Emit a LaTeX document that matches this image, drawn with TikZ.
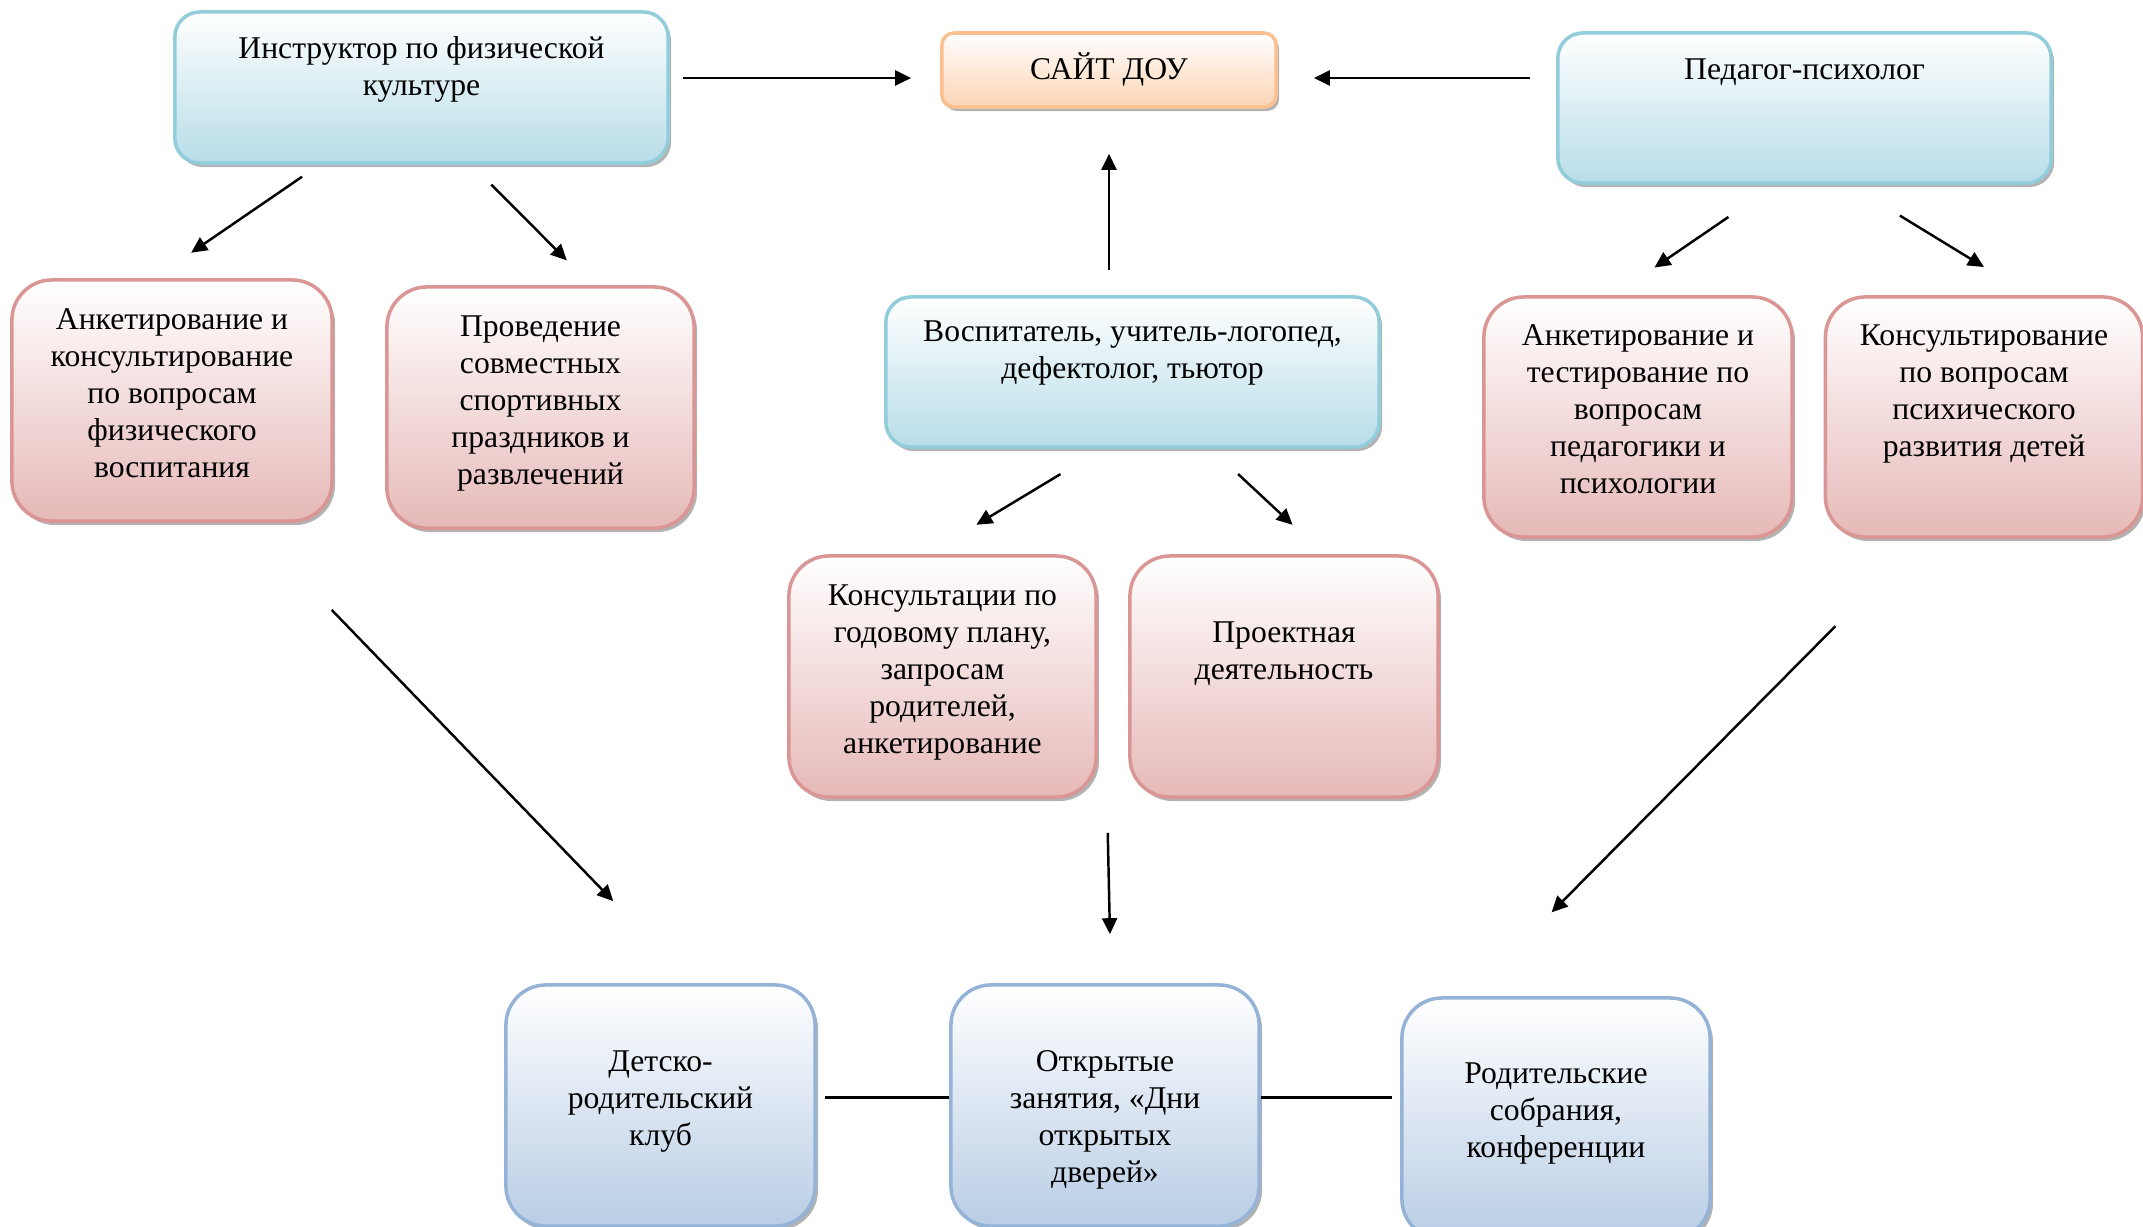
\documentclass[tikz,border=0pt]{standalone}
\usepackage{fontspec}
\setmainfont{Liberation Serif}
\usepackage{xcolor}
\usepackage{tikz}
\usetikzlibrary{positioning,calc,arrows.meta,shadows}
\definecolor{TealEdge}{RGB}{146,205,220}
\definecolor{TealFill}{RGB}{183,221,232}
\definecolor{OrangeEdge}{RGB}{250,192,144}
\definecolor{OrangeFill}{RGB}{251,212,180}
\definecolor{PinkEdge}{RGB}{217,150,148}
\definecolor{PinkFill}{RGB}{230,185,184}
\definecolor{BlueEdge}{RGB}{149,179,215}
\definecolor{BlueFill}{RGB}{185,205,229}
\tikzset{
    box/.style={rectangle, line width=1pt, inner sep=0pt, top color=white,
        drop shadow={shadow xshift=0.03cm, shadow yshift=-0.04cm, fill=black!50, opacity=0.6}},
    tealbox/.style={box, draw=TealEdge, bottom color=TealFill, rounded corners=0.25cm},
    orangebox/.style={box, draw=OrangeEdge, bottom color=OrangeFill, rounded corners=0.12cm, font=\fontsize{9}{10.5}\selectfont},
    pinkbox/.style={box, draw=PinkEdge, bottom color=PinkFill, rounded corners=0.4cm},
    bluebox/.style={box, draw=BlueEdge, bottom color=BlueFill, rounded corners=0.4cm}
}

\begin{document}
\begin{tikzpicture}[
        x=0.01cm, y=-0.01cm,
        % --- STYLE ---
        lbl/.style={align=center, inner sep=0pt, anchor=north, font=\fontsize{9}{10.5}\selectfont},
        arr/.style={-{Triangle[length=0.16cm, width=0.15cm]}, line width=0.7pt},
        link/.style={line width=0.7pt}
    ]
    \useasboundingbox (0,0) rectangle (2143,1226);

    % --- HÀNG TRÊN ---
    \node[tealbox, minimum width=4.93cm, minimum height=1.51cm] (instr) at (421.5,87.5) {};
    \node[lbl, below=0.26cm of instr.north] (instr-t) {Инструктор по физической\\культуре};

    \node[orangebox, minimum width=3.34cm, minimum height=0.74cm] (site) at (1109,70) {\raisebox{0.07cm}{САЙТ ДОУ}};

    \node[tealbox, minimum width=4.93cm, minimum height=1.50cm] (psych) at (1804.5,108) {};
    \node[lbl, below=0.27cm of psych.north] (psych-t) {Педагог-психолог};

    % --- HÀNG GIỮA ---
    \node[pinkbox, minimum width=3.20cm, minimum height=2.41cm] (anket1) at (172,400.5) {};
    \node[lbl, below=0.30cm of anket1.north] (anket1-t) {Анкетирование и\\консультирование\\по вопросам\\физического\\воспитания};

    \node[pinkbox, minimum width=3.07cm, minimum height=2.41cm] (provod) at (540.5,407.5) {};
    \node[lbl, below=0.30cm of provod.north] (provod-t) {Проведение\\совместных\\спортивных\\праздников и\\развлечений};

    \node[tealbox, minimum width=4.93cm, minimum height=1.50cm] (vosp) at (1132.5,372) {};
    \node[lbl, below=0.25cm of vosp.north] (vosp-t) {Воспитатель, учитель-логопед,\\дефектолог, тьютор};

    \node[pinkbox, minimum width=3.08cm, minimum height=2.40cm] (anket2) at (1638,417) {};
    \node[lbl, below=0.29cm of anket2.north] (anket2-t) {Анкетирование и\\тестирование по\\вопросам\\педагогики и\\психологии};

    \node[pinkbox, minimum width=3.17cm, minimum height=2.40cm] (konsult) at (1984,417) {};
    \node[lbl, below=0.29cm of konsult.north] (konsult-t) {Консультирование\\по вопросам\\психического\\развития детей};

    \node[pinkbox, minimum width=3.07cm, minimum height=2.41cm] (konsplan) at (942.5,676.5) {};
    \node[lbl, below=0.30cm of konsplan.north] (konsplan-t) {Консультации по\\годовому плану,\\запросам\\родителей,\\анкетирование};

    \node[pinkbox, minimum width=3.08cm, minimum height=2.41cm] (proekt) at (1284,676.5) {};
    \node[lbl, below=0.67cm of proekt.north] (proekt-t) {Проектная\\деятельность};

    % --- HÀNG DƯỚI ---
    \node[bluebox, minimum width=3.09cm, minimum height=2.41cm] (club) at (660.5,1105.5) {};
    \node[lbl, below=0.67cm of club.north] (club-t) {Детско-\\родительский\\клуб};

    \node[bluebox, minimum width=3.08cm, minimum height=2.41cm] (open) at (1105,1105.5) {};
    \node[lbl, below=0.67cm of open.north] (open-t) {Открытые\\занятия, «Дни\\открытых\\дверей»};

    \node[bluebox, minimum width=3.08cm, minimum height=2.41cm] (parents) at (1556,1118.5) {};
    \node[lbl, below=0.66cm of parents.north] (parents-t) {Родительские\\собрания,\\конференции};

    % --- MŨI TÊN ---
    \draw[arr, shorten <=0.13cm, shorten >=0.29cm] ($(instr.east |- site.west)+(0,8)$) -- ($(site.west)+(0,8)$);
    \draw[arr, shorten <=0.26cm, shorten >=0.36cm] ($(psych.west |- site.east)+(0,8)$) -- ($(site.east)+(0,8)$);
    \draw[arr, shorten <=0.25cm, shorten >=0.45cm] (site.south |- vosp.north) -- (site.south);

    \draw[arr, shorten <=0.21cm, shorten >=0.45cm] ([xshift=-1.02cm]instr.south) -- ([xshift=-0.18cm]anket1.north);
    \draw[arr, shorten <=0.28cm, shorten >=0.35cm] ([xshift=0.50cm]instr.south) -- ([xshift=0.51cm]provod.north);
    \draw[arr, shorten <=0.57cm, shorten >=0.49cm] ([xshift=-0.29cm]psych.south) -- ([xshift=-0.24cm]anket2.north);
    \draw[arr, shorten <=0.59cm, shorten >=0.54cm] ([xshift=0.45cm]psych.south) -- ([xshift=0.46cm]konsult.north);
    \draw[arr, shorten <=0.49cm, shorten >=0.57cm] ([xshift=-0.30cm]vosp.south) -- ([xshift=-0.15cm]konsplan.north);
    \draw[arr, shorten <=0.37cm, shorten >=0.43cm] ([xshift=0.785cm]vosp.south) -- ([xshift=0.40cm]proekt.north);

    \draw[arr, shorten <=1.21cm, shorten >=1.14cm] ([xshift=0.755cm]anket1.south) -- ([xshift=0.32cm]club.north);
    \draw[arr, shorten <=0.34cm, shorten >=0.49cm] ($(konsplan.south east)!0.5!(proekt.south west)+(-6,0)$) -- ([xshift=0.06cm]open.north);
    \draw[arr, shorten <=1.23cm, shorten >=1.18cm] ([xshift=-0.62cm]konsult.south) -- ([xshift=-0.875cm]parents.north);

    % --- ĐƯỜNG NỐI ---
    \draw[link, shorten <=0.08cm] ([yshift=0.08cm]club.east) -- ([yshift=0.08cm]open.west);
    \draw[link, shorten >=0.08cm] ([yshift=0.08cm]open.east) -- ([yshift=0.08cm]parents.west |- open.east);

\end{tikzpicture}
\end{document}
